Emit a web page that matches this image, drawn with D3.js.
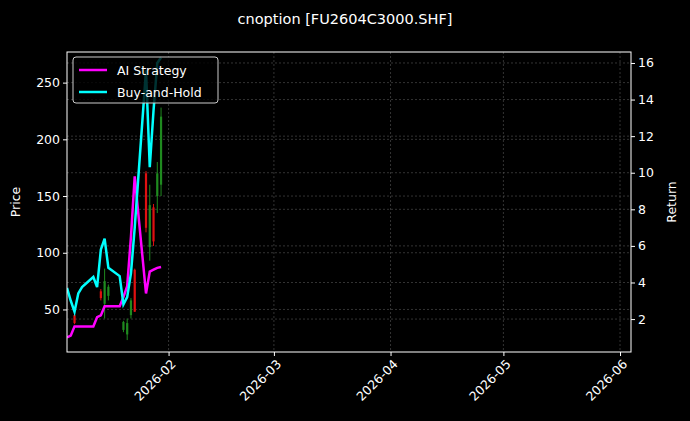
<!DOCTYPE html>
<html><head><meta charset="utf-8">
<script src="https://cdn.jsdelivr.net/npm/d3@7"></script>
<style>body{margin:0;background:#000}svg{font-family:"DejaVu Sans",sans-serif}</style>
</head><body><svg id="c" width="690" height="421"></svg>
<script>
const dates = ["2026-01-05","2026-01-06","2026-01-07","2026-01-08","2026-01-09","2026-01-12","2026-01-13","2026-01-14","2026-01-15","2026-01-16","2026-01-19","2026-01-20","2026-01-21","2026-01-22","2026-01-23","2026-01-26","2026-01-27","2026-01-28","2026-01-29","2026-01-30"];
const aiReturn = [1.0,1.1,1.6,1.6,1.6,1.6,2.1,2.2,2.7,2.7,2.7,3.2,3.8,6.5,9.8,3.4,4.6,4.7,4.8,4.85];
const bhReturn = [3.7,3.0,2.4,3.4,3.75,4.3,3.75,5.8,6.4,4.8,4.35,2.8,3.2,4.5,7.0,15.6,10.3,13.4,16.0,16.3];
const candleDates = ["2026-01-07","2026-01-14","2026-01-15","2026-01-16","2026-01-20","2026-01-21","2026-01-22","2026-01-23","2026-01-26","2026-01-27","2026-01-28","2026-01-29","2026-01-30"];
const cOpen  = [45,66,55,62,32,28,45,85,170,105,140,150,160];
const cHigh  = [47,68,86,72,40,42,60,86,172,160,143,180,228];
const cLow   = [37,58,42,58,30,23,42,48,118,93,106,135,150];
const cClose = [38,60,75,70,39,38,58,48,122,142,110,170,220];
const priceTicks = [50,100,150,200,250];
const returnTicks = [2,4,6,8,10,12,14,16];
const monthTicks = ["2026-02-01","2026-03-01","2026-04-01","2026-05-01","2026-06-01"];

const svg = d3.select("#c");
const L=67,R=631,T=52,B=352;
const p = d3.timeParse("%Y-%m-%d");
const x = d3.scaleTime().domain([p("2026-01-05"), new Date(2026,5,3,22)]).range([L,R]);
const yP = d3.scaleLinear().domain([12.5,277]).range([B,T]);
const yR = d3.scaleLinear().domain([0.2,16.6]).range([B,T]);
const defs = svg.append("defs");
defs.append("clipPath").attr("id","clip").append("rect").attr("x",L).attr("y",T).attr("width",R-L).attr("height",B-T);

svg.append("text").attr("x",345).attr("y",24).attr("text-anchor","middle").attr("fill","#fff").attr("font-size",14.5).text("cnoption [FU2604C3000.SHF]");

const grid = svg.append("g").attr("stroke","#555").attr("stroke-width",0.6).attr("stroke-dasharray","2,2");
monthTicks.forEach(d=>grid.append("line").attr("x1",x(p(d))).attr("x2",x(p(d))).attr("y1",T).attr("y2",B));
priceTicks.forEach(v=>grid.append("line").attr("x1",L).attr("x2",R).attr("y1",yP(v)).attr("y2",yP(v)));
returnTicks.forEach(v=>grid.append("line").attr("x1",L).attr("x2",R).attr("y1",yR(v)).attr("y2",yR(v)));

const g = svg.append("g").attr("clip-path","url(#clip)");
candleDates.forEach((d,i)=>{
  const cx = x(p(d)), col = cClose[i]>=cOpen[i] ? "#1f8a1f" : "#e01010";
  g.append("line").attr("x1",cx).attr("x2",cx).attr("y1",yP(cHigh[i])).attr("y2",yP(cLow[i])).attr("stroke",col).attr("stroke-width",1);
  g.append("rect").attr("x",cx-1.1).attr("width",2.2).attr("y",yP(Math.max(cOpen[i],cClose[i]))).attr("height",Math.max(1,Math.abs(yP(cOpen[i])-yP(cClose[i])))).attr("fill",col);
});
const line = arr => d3.line().x((d,i)=>x(p(dates[i]))).y(d=>yR(d))(arr);
g.append("path").attr("d",line(aiReturn)).attr("fill","none").attr("stroke","#ff00ff").attr("stroke-width",2.5);
g.append("path").attr("d",line(bhReturn)).attr("fill","none").attr("stroke","#00ffff").attr("stroke-width",2.5);

svg.append("rect").attr("x",L).attr("y",T).attr("width",R-L).attr("height",B-T).attr("fill","none").attr("stroke","#fff").attr("stroke-width",1);

const ax = d3.axisBottom(x).tickValues(monthTicks.map(p)).tickFormat(d3.timeFormat("%Y-%m")).tickSize(4);
const gx = svg.append("g").attr("transform",`translate(0,${B})`).call(ax);
gx.selectAll("text").attr("transform","rotate(-45)").attr("text-anchor","end").attr("dx","-0.3em").attr("dy","0.6em");
const gl = svg.append("g").attr("transform",`translate(${L},0)`).call(d3.axisLeft(yP).tickValues(priceTicks).tickSize(4));
const gr = svg.append("g").attr("transform",`translate(${R},0)`).call(d3.axisRight(yR).tickValues(returnTicks).tickSize(4));
[gx,gl,gr].forEach(a=>{a.select(".domain").remove();a.selectAll("line").attr("stroke","#fff");a.selectAll("text").attr("fill","#fff").attr("font-size",12.5).attr("font-family","DejaVu Sans");});

svg.append("text").attr("transform","translate(20,202) rotate(-90)").attr("text-anchor","middle").attr("fill","#fff").attr("font-size",12.5).text("Price");
svg.append("text").attr("transform","translate(676,202) rotate(-90)").attr("text-anchor","middle").attr("fill","#fff").attr("font-size",12.5).text("Return");

const lg = svg.append("g");
lg.append("rect").attr("x",73).attr("y",57).attr("width",145).attr("height",46).attr("rx",3).attr("fill","#000").attr("fill-opacity",0.8).attr("stroke","#ccc");
[["AI Strategy","#ff00ff",70],["Buy-and-Hold","#00ffff",92]].forEach(([t,c,yy])=>{
  lg.append("line").attr("x1",79).attr("x2",107).attr("y1",yy).attr("y2",yy).attr("stroke",c).attr("stroke-width",2.5);
  lg.append("text").attr("x",117).attr("y",yy+4.5).attr("fill","#fff").attr("font-size",12.5).text(t);
});
</script></body></html>
